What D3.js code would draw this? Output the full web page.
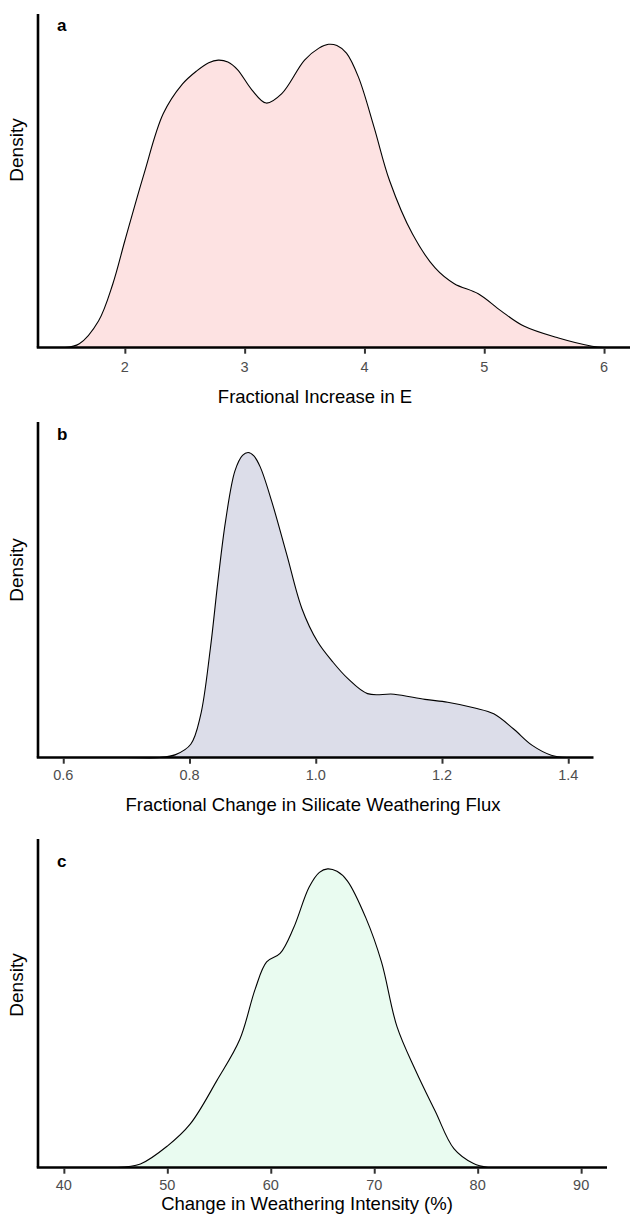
<!DOCTYPE html>
<html>
<head>
<meta charset="utf-8">
<script src="https://cdn.jsdelivr.net/npm/d3@7"></script>
<style>
  html, body { margin: 0; padding: 0; background: #ffffff; }
  svg { display: block; font-family: "Liberation Sans", Arial, Helvetica, sans-serif; }
</style>
</head>
<body>
<svg id="chart" width="630" height="1217"></svg>
<script>
// Panel a: fractional increase in E
const eIncreaseX = [1.5, 1.62, 1.78, 1.9, 2.0, 2.16, 2.32, 2.48, 2.6, 2.7, 2.78, 2.86, 2.94, 3.06, 3.18, 3.31, 3.5, 3.62, 3.7, 3.77, 3.85, 3.95, 4.08, 4.21, 4.4, 4.59, 4.75, 4.95, 5.14, 5.33, 5.62, 5.9, 6.0];
const eIncreaseDensity = [0.0, 0.006, 0.042, 0.101, 0.169, 0.275, 0.37, 0.417, 0.438, 0.451, 0.455, 0.452, 0.440, 0.408, 0.387, 0.402, 0.455, 0.474, 0.48, 0.478, 0.466, 0.428, 0.349, 0.264, 0.18, 0.126, 0.101, 0.085, 0.058, 0.034, 0.015, 0.002, 0.0];
const eIncreaseTicks = [2, 3, 4, 5, 6];

// Panel b: fractional change in silicate weathering flux
const fluxX = [0.6, 0.7, 0.753, 0.778, 0.802, 0.8175, 0.833, 0.845, 0.857, 0.872, 0.884, 0.893, 0.902, 0.912, 0.93, 0.954, 0.978, 1.003, 1.027, 1.051, 1.082, 1.124, 1.173, 1.209, 1.252, 1.282, 1.313, 1.343, 1.373, 1.398];
const fluxDensity = [0.0, 0.0, 0.0, 0.05, 0.23, 0.73, 1.89, 3.06, 4.1, 4.98, 5.25, 5.3, 5.24, 5.05, 4.46, 3.53, 2.59, 2.01, 1.66, 1.37, 1.11, 1.1, 1.01, 0.96, 0.86, 0.76, 0.5, 0.21, 0.04, 0.0];
const fluxTicks = [0.6, 0.8, 1.0, 1.2, 1.4];

// Panel c: change in weathering intensity (%)
const intensityX = [45.2, 47.4, 50.0, 52.2, 54.8, 57.0, 58.5, 59.6, 60.9, 62.2, 63.7, 64.7, 65.5, 66.4, 67.4, 69.2, 70.7, 72.2, 74.0, 75.9, 77.7, 79.6, 81.0];
const intensityDensity = [0.0, 0.0007, 0.0043, 0.0087, 0.0175, 0.0257, 0.0359, 0.0413, 0.043, 0.0481, 0.0563, 0.0593, 0.06, 0.0595, 0.0576, 0.0501, 0.0413, 0.0283, 0.0195, 0.0113, 0.0038, 0.0008, 0.0];
const intensityTicks = [40, 50, 60, 70, 80, 90];

const panels = [
  { letter: "a", xs: eIncreaseX, ys: eIncreaseDensity, ticks: eIncreaseTicks, fmt: d3.format("d"),
    title: "Fractional Increase in E", fill: "#fde2e2",
    domain: [1.275, 6.225], left: 38, right: 631, top: 14, base: 347.5,
    tickY: 368, titleY: 398, densY: 150, titleX: 315, letterY: 27 },
  { letter: "b", xs: fluxX, ys: fluxDensity, ticks: fluxTicks, fmt: d3.format(".1f"),
    title: "Fractional Change in Silicate Weathering Flux", fill: "#dcdde9",
    domain: [0.56, 1.44], left: 38, right: 593.5, top: 422, base: 757.5,
    tickY: 776, titleY: 806, densY: 570, titleX: 313, letterY: 436 },
  { letter: "c", xs: intensityX, ys: intensityDensity, ticks: intensityTicks, fmt: d3.format("d"),
    title: "Change in Weathering Intensity (%)", fill: "#e9fbf0",
    domain: [37.5, 92.5], left: 38, right: 607, top: 839, base: 1167.5,
    tickY: 1186, titleY: 1205, densY: 985, titleX: 307, letterY: 863 }
];

const svg = d3.select("#chart");

panels.forEach(p => {
  const g = svg.append("g");
  const x = d3.scaleLinear().domain(p.domain).range([p.left, p.right]);
  const yMax = d3.max(p.ys) * 1.1;
  const y = d3.scaleLinear().domain([0, yMax]).range([p.base, p.top]);
  const pts = p.xs.map((v, i) => [v, p.ys[i]]);
  const curve = d3.curveCatmullRom.alpha(0.5);

  const area = d3.area()
    .x(d => x(d[0]))
    .y0(y(0))
    .y1(d => Math.min(y(d[1]), p.base))
    .curve(curve);
  const line = d3.line()
    .x(d => x(d[0]))
    .y(d => y(d[1]))
    .curve(curve);

  g.append("path").datum(pts).attr("d", area).attr("fill", p.fill);
  g.append("path").datum(pts).attr("d", line)
    .attr("fill", "none").attr("stroke", "#000").attr("stroke-width", 1.1);

  // x axis with ggplot-like ticks
  const xAxis = d3.axisBottom(x).tickValues(p.ticks).tickFormat(p.fmt).tickSize(5);
  const ax = g.append("g").attr("transform", `translate(0,${p.base + 1.2})`).call(xAxis);
  ax.select(".domain").remove();
  ax.selectAll(".tick line").attr("stroke", "#333333").attr("stroke-width", 2);
  ax.selectAll(".tick text").remove();

  g.selectAll("text.tick-label").data(p.ticks).join("text")
    .attr("class", "tick-label")
    .attr("x", d => x(d)).attr("y", p.tickY)
    .attr("text-anchor", "middle").attr("dominant-baseline", "middle")
    .attr("font-size", 14.5).attr("fill", "#4d4d4d")
    .text(p.fmt);

  // axis lines
  g.append("line").attr("x1", p.left - 1.25).attr("x2", p.right)
    .attr("y1", p.base).attr("y2", p.base)
    .attr("stroke", "#000").attr("stroke-width", 2.6);
  g.append("line").attr("x1", p.left).attr("x2", p.left)
    .attr("y1", p.top).attr("y2", p.base)
    .attr("stroke", "#000").attr("stroke-width", 2.6);

  // titles
  g.append("text").attr("x", p.titleX).attr("y", p.titleY)
    .attr("text-anchor", "middle").attr("dominant-baseline", "middle")
    .attr("font-size", 18.5).attr("fill", "#000").text(p.title);
  g.append("text")
    .attr("transform", `translate(18,${p.densY}) rotate(-90)`)
    .attr("text-anchor", "middle").attr("dominant-baseline", "middle")
    .attr("font-size", 19).attr("fill", "#000").text("Density");
  g.append("text").attr("x", 57).attr("y", p.letterY)
    .attr("dominant-baseline", "middle")
    .attr("font-size", 17).attr("font-weight", "bold").attr("fill", "#000").text(p.letter);
});
</script>
</body>
</html>
